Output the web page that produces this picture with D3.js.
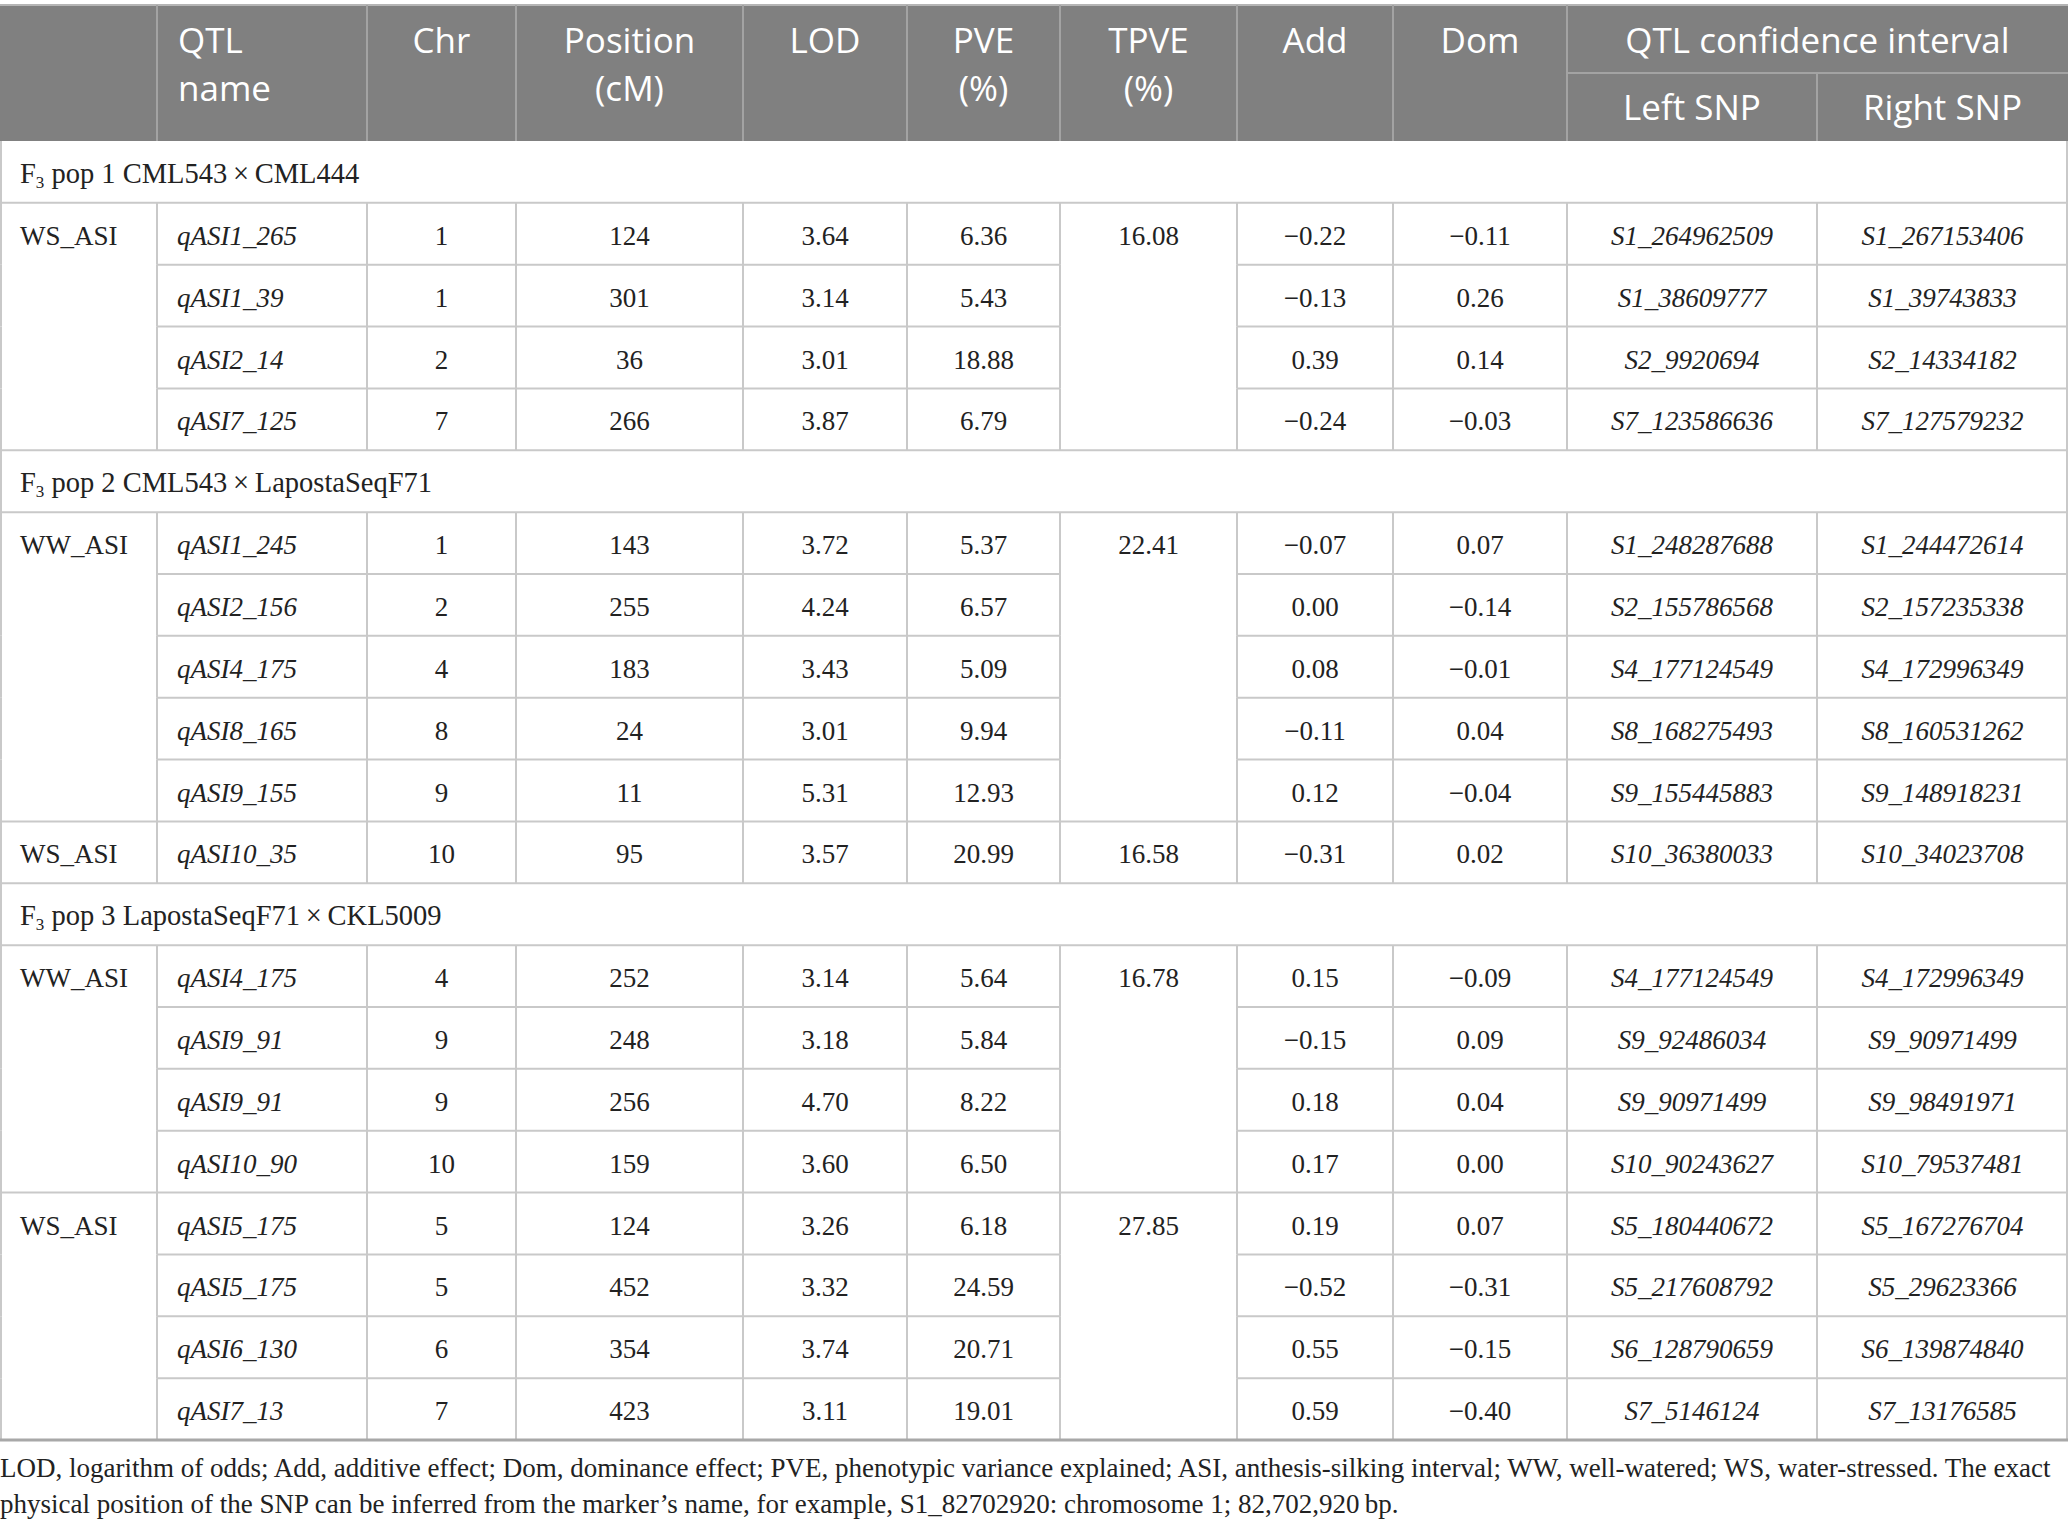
<!DOCTYPE html>
<html>
<head>
<meta charset="utf-8">
<script src="https://cdn.jsdelivr.net/npm/d3@7"></script>
<style>
  body { margin: 0; background: #fff; }
</style>
</head>
<body>
<svg id="chart"></svg>
<script>
var popLabels = ["pop 1 CML543\u2009\u00d7\u2009CML444",
                 "pop 2 CML543\u2009\u00d7\u2009LapostaSeqF71",
                 "pop 3 LapostaSeqF71\u2009\u00d7\u2009CKL5009"];

var blockPop = [0, 1, 1, 2, 2];
var blockCondition = ["WS_ASI", "WW_ASI", "WS_ASI", "WW_ASI", "WS_ASI"];
var blockSize = [4, 5, 1, 4, 4];
var blockTpve = [16.08, 22.41, 16.58, 16.78, 27.85];

var qtlName = ["qASI1_265", "qASI1_39", "qASI2_14", "qASI7_125",
               "qASI1_245", "qASI2_156", "qASI4_175", "qASI8_165", "qASI9_155",
               "qASI10_35",
               "qASI4_175", "qASI9_91", "qASI9_91", "qASI10_90",
               "qASI5_175", "qASI5_175", "qASI6_130", "qASI7_13"];
var chr = [1, 1, 2, 7, 1, 2, 4, 8, 9, 10, 4, 9, 9, 10, 5, 5, 6, 7];
var position = [124, 301, 36, 266, 143, 255, 183, 24, 11, 95, 252, 248, 256, 159, 124, 452, 354, 423];
var lod = [3.64, 3.14, 3.01, 3.87, 3.72, 4.24, 3.43, 3.01, 5.31, 3.57, 3.14, 3.18, 4.70, 3.60, 3.26, 3.32, 3.74, 3.11];
var pve = [6.36, 5.43, 18.88, 6.79, 5.37, 6.57, 5.09, 9.94, 12.93, 20.99, 5.64, 5.84, 8.22, 6.50, 6.18, 24.59, 20.71, 19.01];
var add = [-0.22, -0.13, 0.39, -0.24, -0.07, 0.00, 0.08, -0.11, 0.12, -0.31, 0.15, -0.15, 0.18, 0.17, 0.19, -0.52, 0.55, 0.59];
var dom = [-0.11, 0.26, 0.14, -0.03, 0.07, -0.14, -0.01, 0.04, -0.04, 0.02, -0.09, 0.09, 0.04, 0.00, 0.07, -0.31, -0.15, -0.40];
var leftSnp = ["S1_264962509", "S1_38609777", "S2_9920694", "S7_123586636",
               "S1_248287688", "S2_155786568", "S4_177124549", "S8_168275493", "S9_155445883",
               "S10_36380033",
               "S4_177124549", "S9_92486034", "S9_90971499", "S10_90243627",
               "S5_180440672", "S5_217608792", "S6_128790659", "S7_5146124"];
var rightSnp = ["S1_267153406", "S1_39743833", "S2_14334182", "S7_127579232",
                "S1_244472614", "S2_157235338", "S4_172996349", "S8_160531262", "S9_148918231",
                "S10_34023708",
                "S4_172996349", "S9_90971499", "S9_98491971", "S10_79537481",
                "S5_167276704", "S5_29623366", "S6_139874840", "S7_13176585"];

var headerLabels = [[], ["QTL", "name"], ["Chr"], ["Position", "(cM)"], ["LOD"],
                    ["PVE", "(%)"], ["TPVE", "(%)"], ["Add"], ["Dom"]];
var spanLabel = "QTL confidence interval";
var subLabels = ["Left SNP", "Right SNP"];

var footnote = ["LOD, logarithm of odds; Add, additive effect; Dom, dominance effect; PVE, phenotypic variance explained; ASI, anthesis-silking interval; WW, well-watered; WS, water-stressed. The exact",
                "physical position of the SNP can be inferred from the marker\u2019s name, for example, S1_82702920: chromosome 1; 82,702,920\u2009bp."];

// ---- layout ----
var W = 2068, H = 1529;
var colEdges = [0, 157, 367, 516, 743, 907, 1060, 1237, 1393, 1567, 1817, 2068];
var headTop = 5, headMid = 73, headBottom = 141, tableBottom = 1440;
var headBg = "#808080", headLine = "#a3a3a3", gridLine = "#c9c9c9";
var serif = "'Liberation Serif', 'DejaVu Serif', serif";
var sans = "'Open Sans', 'Noto Sans', sans-serif";
var f2 = d3.format(".2f");

// build the row list: section rows + data rows
var rows = [];
var k = 0;
blockSize.forEach(function(n, b) {
    if (b == 0 || blockPop[b] != blockPop[b - 1]) {
        rows.push({type: "section", pop: blockPop[b]});
    }
    for (var j = 0; j < n; j++) {
        rows.push({type: "data", i: k, block: b, first: j == 0, last: j == n - 1});
        k++;
    }
});

var y = d3.scaleBand()
    .domain(d3.range(rows.length))
    .range([headBottom, tableBottom]);
var colX = function(c) { return colEdges[c]; };
var colMid = function(c) { return (colEdges[c] + colEdges[c + 1]) / 2; };

var svg = d3.select("#chart").attr("width", W).attr("height", H);

// ---- header ----
svg.append("rect")
    .attr("x", 0).attr("y", headTop)
    .attr("width", W).attr("height", headBottom - headTop)
    .attr("fill", headBg);
svg.append("line")
    .attr("x1", 0).attr("x2", W).attr("y1", headTop).attr("y2", headTop)
    .attr("stroke", "#b5b5b5").attr("stroke-width", 2);

var hl = svg.append("g").attr("stroke", headLine).attr("stroke-width", 2);
hl.selectAll("line.v")
  .data(d3.range(1, 10))
  .enter().append("line")
    .attr("x1", colX).attr("x2", colX)
    .attr("y1", headTop).attr("y2", headBottom);
hl.append("line")
    .attr("x1", colX(10)).attr("x2", colX(10))
    .attr("y1", headMid).attr("y2", headBottom);
hl.append("line")
    .attr("x1", colX(9)).attr("x2", W)
    .attr("y1", headMid).attr("y2", headMid);

var ht = svg.append("g")
    .attr("font-family", sans).attr("font-size", 35).attr("fill", "#fff");
headerLabels.forEach(function(lines, c) {
    if (!lines.length) return;
    var x = c == 1 ? colX(c) + 21 : colMid(c);
    var t = ht.append("text")
        .attr("y", 53)
        .attr("text-anchor", c == 1 ? "start" : "middle");
    t.selectAll("tspan")
      .data(lines)
      .enter().append("tspan")
        .attr("x", x)
        .attr("dy", function(d, li){ return li == 0 ? 0 : 48; })
        .text(function(d){ return d; });
});
ht.append("text")
    .attr("x", (colX(9) + W) / 2).attr("y", 53)
    .attr("text-anchor", "middle")
    .text(spanLabel);
subLabels.forEach(function(s, j) {
    ht.append("text")
        .attr("x", colMid(9 + j)).attr("y", 120)
        .attr("text-anchor", "middle")
        .text(s);
});

// ---- body text ----
var body = svg.append("g")
    .attr("font-family", serif).attr("font-size", 27).attr("fill", "#222");

rows.forEach(function(r, ri) {
    var base = y(ri) + 42;
    if (r.type == "section") {
        var t = body.append("text").attr("x", 20).attr("y", base).attr("font-size", 28.5);
        t.append("tspan").text("F");
        t.append("tspan").attr("font-size", 17).attr("dy", 5).text("3");
        t.append("tspan").attr("dy", -5).text(" " + popLabels[r.pop]);
        return;
    }
    var i = r.i;
    var cells = [
        {c: 0, s: r.first ? blockCondition[r.block] : "", left: true},
        {c: 1, s: qtlName[i], left: true, it: true},
        {c: 2, s: chr[i]},
        {c: 3, s: position[i]},
        {c: 4, s: f2(lod[i])},
        {c: 5, s: f2(pve[i])},
        {c: 6, s: r.first ? f2(blockTpve[r.block]) : ""},
        {c: 7, s: f2(add[i])},
        {c: 8, s: f2(dom[i])},
        {c: 9, s: leftSnp[i], it: true},
        {c: 10, s: rightSnp[i], it: true}
    ];
    body.selectAll(null)
      .data(cells.filter(function(d){ return d.s !== ""; }))
      .enter().append("text")
        .attr("x", function(d){ return d.left ? colX(d.c) + 20 : colMid(d.c); })
        .attr("y", base)
        .attr("text-anchor", function(d){ return d.left ? "start" : "middle"; })
        .attr("font-style", function(d){ return d.it ? "italic" : "normal"; })
        .text(function(d){ return d.s; });
});

// ---- grid lines ----
var grid = svg.append("g").attr("stroke", gridLine).attr("stroke-width", 2);

rows.forEach(function(r, ri) {
    var y0 = y(ri), y1 = y0 + y.bandwidth();
    var xs = r.type == "section" ? [0, W] : colEdges;
    grid.selectAll(null)
      .data(xs)
      .enter().append("line")
        .attr("x1", function(d){ return Math.min(Math.max(d, 1), W - 1); })
        .attr("x2", function(d){ return Math.min(Math.max(d, 1), W - 1); })
        .attr("y1", y0).attr("y2", y1);
    // bottom edge
    var segs;
    if (r.type == "section" || r.last) {
        segs = [[0, W]];
    } else {
        segs = [[colX(1), colX(6)], [colX(7), W]];
    }
    if (ri == rows.length - 1) return;
    grid.selectAll(null)
      .data(segs)
      .enter().append("line")
        .attr("x1", function(d){ return d[0]; })
        .attr("x2", function(d){ return d[1]; })
        .attr("y1", y1).attr("y2", y1);
});

svg.append("line")
    .attr("x1", 0).attr("x2", W)
    .attr("y1", tableBottom).attr("y2", tableBottom)
    .attr("stroke", "#a8a8a8").attr("stroke-width", 3);

// ---- footnote ----
svg.append("g")
    .attr("font-family", serif).attr("font-size", 27).attr("fill", "#222")
  .selectAll("text")
  .data(footnote)
  .enter().append("text")
    .attr("x", 0)
    .attr("y", function(d, i){ return 1477 + i * 36; })
    .text(function(d){ return d; });
</script>
</body>
</html>
